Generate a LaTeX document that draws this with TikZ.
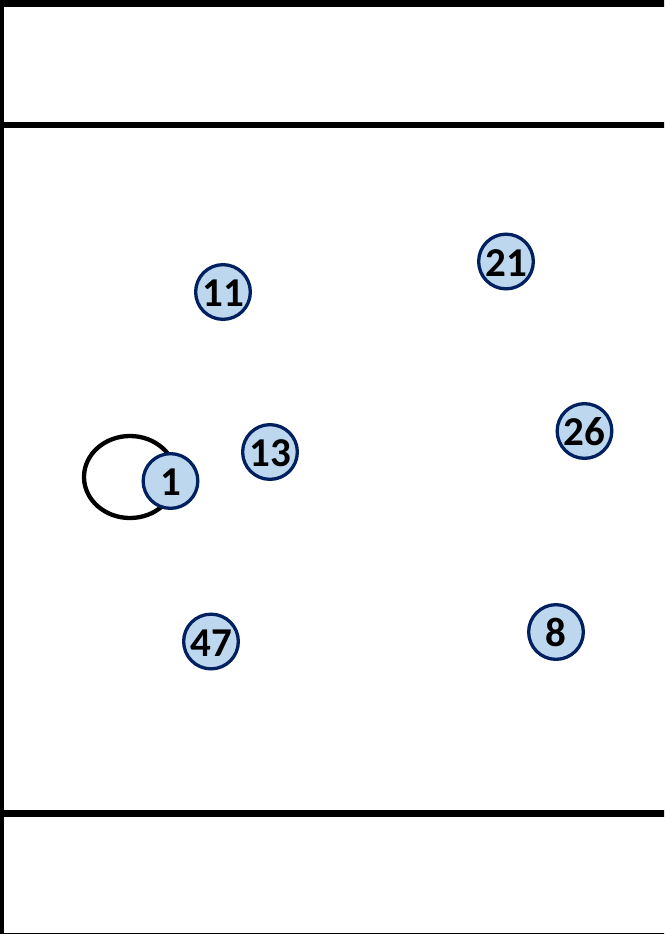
\documentclass[tikz,border=0pt]{standalone}
\usepackage{fontspec}
\setmainfont{Carlito}
\usetikzlibrary{shapes.geometric}

\definecolor{shirt}{HTML}{BDD7EE}
\definecolor{navy}{HTML}{002060}

\begin{document}
\begin{tikzpicture}[
    x=1pt, y=-1pt,
    player/.style={circle, draw=navy, fill=shirt, line width=3.3pt, minimum size=54.7pt, inner sep=0pt, text height=29pt, text depth=0pt, font=\fontsize{41}{41}\selectfont\bfseries},
    line/.style={line width=6.5pt}
]
    \useasboundingbox (0,0) rectangle (664,934);
    \clip (0,0) rectangle (664,934);

    % pitch lines
    \draw[line] (1,0) -- (1,940);
    \draw[line] (0,3.5) -- (670,3.5);
    \draw[line] (0,125) -- (670,125);
    \draw[line] (0,813.5) -- (670,813.5);
    \draw[line] (0,936) -- (670,936);

    % zone
    \node[ellipse, draw, line width=4.3pt, minimum width=92pt, minimum height=82pt, inner sep=0pt] (zone) at (130,477) {};

    % players
    \node[player] (p1) at (170.5,481) {1};
    \node[player] (p11) at (223,292) {11};
    \node[player] (p13) at (270,452) {13};
    \node[player] (p47) at (211,641.5) {47};
    \node[player] (p21) at (506,261.5) {21};
    \node[player] (p26) at (584.5,431) {26};
    \node[player] (p8) at (556,632) {8};
\end{tikzpicture}
\end{document}
